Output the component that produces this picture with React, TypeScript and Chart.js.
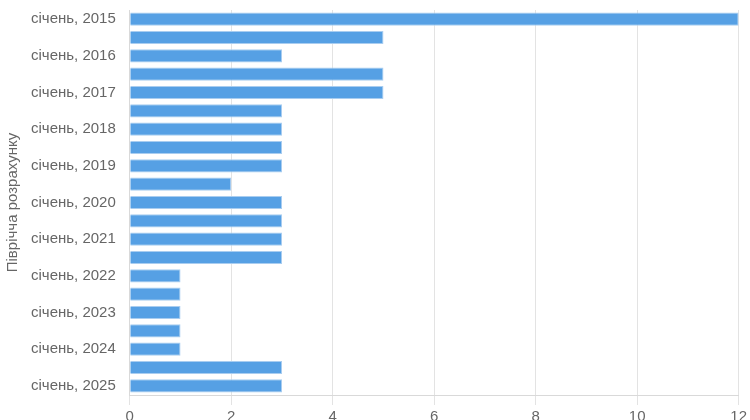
import { useEffect, useRef } from "react";
import { Chart, registerables } from "chart.js";

Chart.register(...registerables);

// periods: січень / липень of each year, 2015 … січень 2025
const periods: string[] = [
  "січень, 2015", "липень, 2015",
  "січень, 2016", "липень, 2016",
  "січень, 2017", "липень, 2017",
  "січень, 2018", "липень, 2018",
  "січень, 2019", "липень, 2019",
  "січень, 2020", "липень, 2020",
  "січень, 2021", "липень, 2021",
  "січень, 2022", "липень, 2022",
  "січень, 2023", "липень, 2023",
  "січень, 2024", "липень, 2024",
  "січень, 2025",
];

const counts: number[] = [12, 5, 3, 5, 5, 3, 3, 3, 3, 2, 3, 3, 3, 3, 1, 1, 1, 1, 1, 3, 3];

const axisTitle = "Піврічча розрахунку";

const FONT = "'Liberation Sans', Arial, sans-serif";

const HalfYearChart: React.FC = () => {
  const chartRef = useRef<Chart | null>(null);
  const canvasRef = useRef<HTMLCanvasElement>(null);

  useEffect(() => {
    if (!canvasRef.current) return;
    const ctx = canvasRef.current.getContext("2d");
    if (!ctx) return;

    if (chartRef.current) chartRef.current.destroy();

    chartRef.current = new Chart(ctx, {
      type: "bar",
      data: {
        labels: periods,
        datasets: [
          {
            data: counts,
            backgroundColor: "#56a0e4",
            borderColor: "#a9cdf0",
            borderWidth: 1,
            categoryPercentage: 0.8,
            barPercentage: 0.9,
          },
        ],
      },
      options: {
        indexAxis: "y",
        animation: false,
        responsive: true,
        maintainAspectRatio: false,
        layout: { padding: { top: 10, right: 4, bottom: 0, left: 0 } },
        plugins: {
          legend: { display: false },
          tooltip: { enabled: false },
        },
        scales: {
          x: {
            min: 0,
            max: 12,
            ticks: {
              stepSize: 2,
              color: "#666",
              font: { size: 15, family: FONT },
            },
            grid: { color: "#e3e3e3", tickLength: 10 },
            border: { color: "#d9d9d9" },
          },
          y: {
            afterFit: (scale) => {
              // labels sit inside the category bands, no extra room above/below
              scale.paddingTop = 0;
              scale.paddingBottom = 0;
            },
            ticks: {
              autoSkip: false,
              color: "#666",
              padding: 6,
              font: { size: 15, family: FONT },
              callback: function (value, index) {
                return index % 2 === 0 ? this.getLabelForValue(value as number) : "";
              },
            },
            grid: { display: false },
            border: { display: true, color: "#d9d9d9" },
            title: {
              display: true,
              text: axisTitle,
              color: "#666",
              padding: { top: 4, bottom: 3 },
              font: { size: 15, family: FONT },
            },
          },
        },
      },
    });

    return () => {
      if (chartRef.current) {
        chartRef.current.destroy();
        chartRef.current = null;
      }
    };
  }, []);

  return (
    <div style={{ position: "fixed", left: 0, top: 0, width: 750, height: 420, overflow: "hidden", background: "#fff" }}>
      <div style={{ position: "relative", width: 750, height: 429 }}>
        <canvas ref={canvasRef}></canvas>
      </div>
    </div>
  );
};

export default function App() {
  return <HalfYearChart />;
}
